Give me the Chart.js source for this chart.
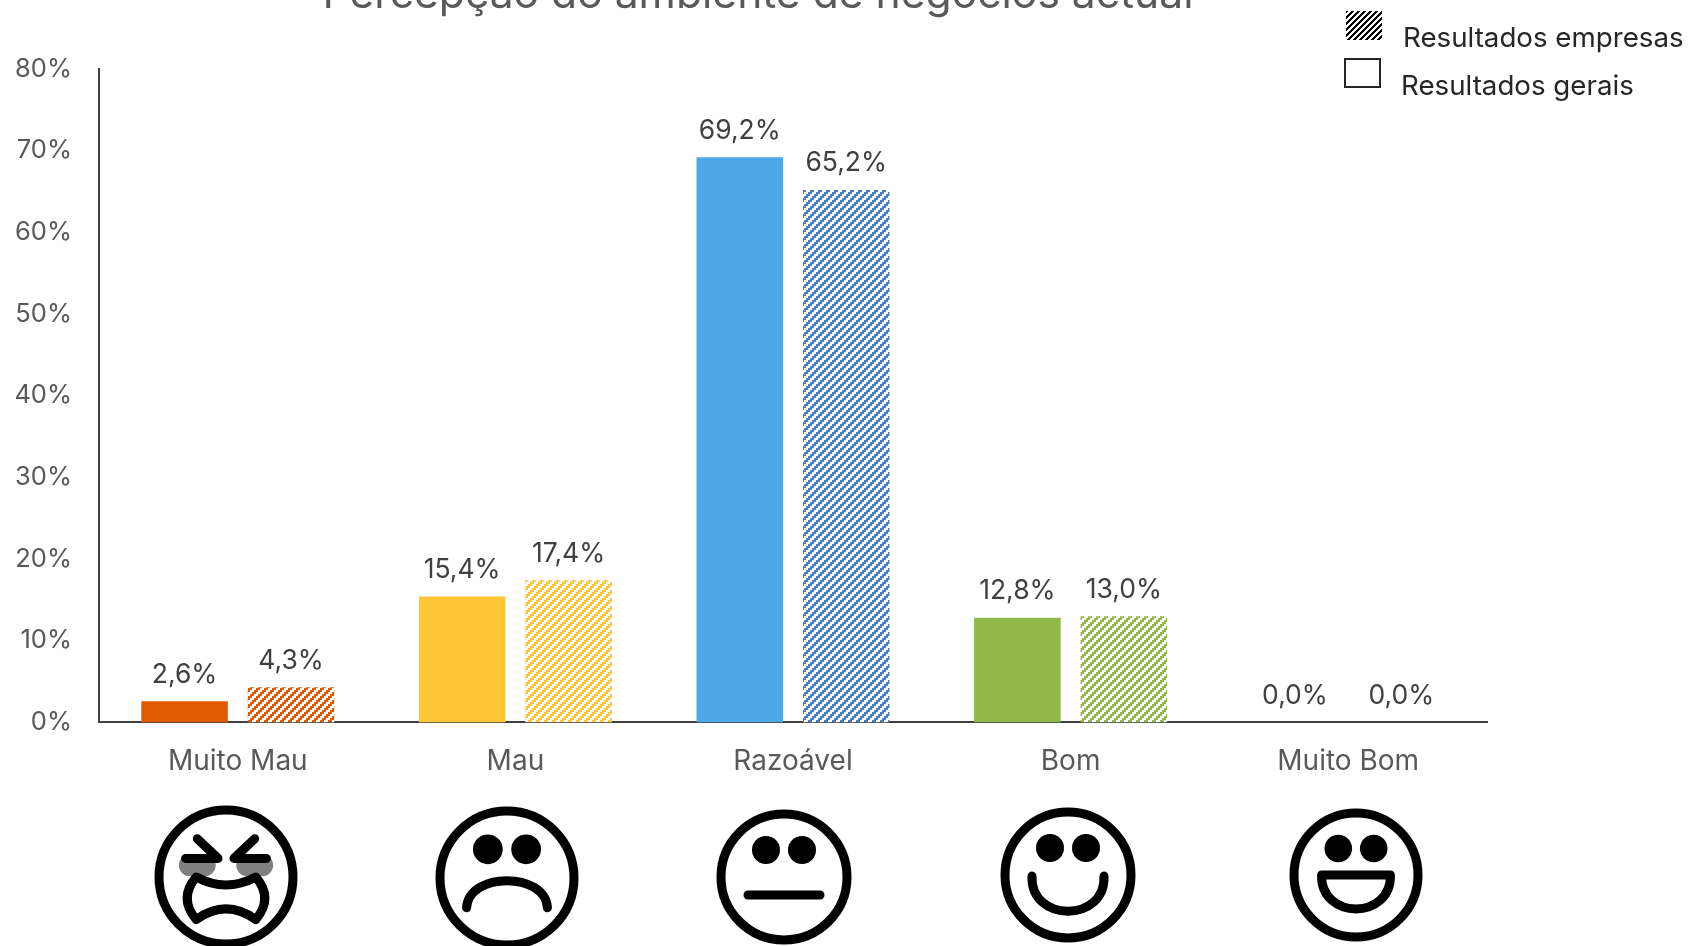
<!DOCTYPE html>
<html>
<head>
<meta charset="utf-8">
<style>
  html, body { margin: 0; padding: 0; background: #fff; overflow: hidden; }
  #wrap { width: 1689px; height: 946px; }
</style>
<script src="https://cdn.jsdelivr.net/npm/chart.js@4/dist/chart.umd.min.js"></script>
</head>
<body>
<div id="wrap"><canvas id="chart" width="1689" height="946"></canvas></div>
<script>
const TITLE = 'Percepção do ambiente de negócios actual';
const categories = ['Muito Mau', 'Mau', 'Razoável', 'Bom', 'Muito Bom'];
const geraisValues = [2.6, 15.4, 69.2, 12.8, 0.0];
const empresasValues = [4.3, 17.4, 65.2, 13.0, 0.0];
const solidColors = ['#E15A00', '#FFC636', '#4CA8E6', '#92B84A', '#A5A5A5'];
const hatchColors = ['#E15A00', '#FFC636', '#4A7EBF', '#92B84A', '#A5A5A5'];
const legendLabels = ['Resultados empresas', 'Resultados gerais'];

const FONT = 'Inter, "Open Sans", sans-serif';
const TEXT = '#595959';

// diagonal staircase stripes, crisp like an office pattern fill
function hatch(color, period = 8, step = 2) {
  const c = document.createElement('canvas');
  c.width = c.height = period;
  const g = c.getContext('2d');
  g.fillStyle = '#fff';
  g.fillRect(0, 0, period, period);
  g.fillStyle = color;
  for (let y = 0; y < period; y += step) {
    for (let x = 0; x < period; x += step) {
      if ((x + y) % period < period / 2) g.fillRect(x, y, step, step);
    }
  }
  return g.createPattern(c, 'repeat');
}

const ctx = document.getElementById('chart').getContext('2d');

const pct = v => v.toFixed(1).replace('.', ',') + '%';

// Value labels above each bar
const valueLabels = {
  id: 'valueLabels',
  afterDatasetsDraw(chart) {
    const g = chart.ctx;
    g.save();
    g.font = '26.5px ' + FONT;
    g.fillStyle = '#404040';
    g.textAlign = 'center';
    g.textBaseline = 'alphabetic';
    chart.data.datasets.forEach((ds, i) => {
      chart.getDatasetMeta(i).data.forEach((bar, j) => {
        g.fillText(pct(ds.data[j]), bar.x, bar.y - 18.5);
      });
    });
    g.restore();
  },
};

// Title (cut by the top edge, as in the original) and hand-placed legend
const titleAndLegend = {
  id: 'titleAndLegend',
  afterDraw(chart) {
    const g = chart.ctx;
    g.save();
    g.font = '42.6px ' + FONT;
    g.fillStyle = TEXT;
    g.textAlign = 'center';
    g.fillText(TITLE, 758, 8);

    g.font = '27.7px ' + FONT;
    g.fillStyle = '#262626';
    g.textAlign = 'left';
    g.fillText(legendLabels[0], 1403, 47);
    g.fillText(legendLabels[1], 1401, 95);

    g.fillStyle = hatch('#000', 6, 1);
    g.fillRect(1346, 11, 36, 29);
    g.strokeStyle = '#262626';
    g.lineWidth = 2;
    g.strokeRect(1345, 59, 35, 28);
    g.restore();
  },
};

// Faces under the axis labels
const FACES = [
  { kind: 'angry', cx: 226, cy: 877, r: 67 },
  { kind: 'sad', cx: 507, cy: 878, r: 67 },
  { kind: 'neutral', cx: 784, cy: 877, r: 63 },
  { kind: 'smile', cx: 1068, cy: 875, r: 63 },
  { kind: 'grin', cx: 1356, cy: 875, r: 62 },
];

function drawFace(g, f) {
  const { cx, cy, r } = f;
  const u = r / 63;
  const X = v => cx + v * u;
  const Y = v => cy + v * u;
  g.save();
  g.strokeStyle = '#000';
  g.fillStyle = '#000';
  g.lineCap = 'round';
  g.lineJoin = 'round';
  g.lineWidth = 9;
  g.beginPath();
  g.arc(cx, cy, r, 0, Math.PI * 2);
  g.stroke();

  const eyes = () => {
    [-18, 18].forEach(dx => {
      g.beginPath();
      g.arc(X(dx), Y(-27), 14 * u, 0, Math.PI * 2);
      g.fill();
    });
  };

  g.beginPath();
  if (f.kind === 'angry') {
    // grey tear smudges behind the squeezed eyes
    g.save();
    g.strokeStyle = '#808080';
    g.lineWidth = 22;
    g.beginPath();
    g.moveTo(X(-34), Y(-11)); g.lineTo(X(-20), Y(-11));
    g.moveTo(X(34), Y(-11)); g.lineTo(X(20), Y(-11));
    g.stroke();
    g.restore();
    g.beginPath();
    g.moveTo(X(-27), Y(-36)); g.lineTo(X(-7.5), Y(-17.5)); g.lineTo(X(-38), Y(-17.5));
    g.moveTo(X(27), Y(-36)); g.lineTo(X(7.5), Y(-17.5)); g.lineTo(X(38), Y(-17.5));
    g.stroke();
    g.beginPath();
    g.moveTo(X(-28), Y(0));
    g.quadraticCurveTo(X(0), Y(15), X(28), Y(0));
    g.quadraticCurveTo(X(45), Y(20), X(28), Y(40));
    g.quadraticCurveTo(X(0), Y(20), X(-28), Y(40));
    g.quadraticCurveTo(X(-45), Y(20), X(-28), Y(0));
    g.closePath();
    g.fillStyle = '#fff';
    g.fill();
    g.stroke();
  } else if (f.kind === 'sad') {
    eyes();
    g.beginPath();
    g.moveTo(X(-38), Y(28));
    g.bezierCurveTo(X(-36), Y(-6), X(36), Y(-6), X(38), Y(28));
    g.stroke();
  } else if (f.kind === 'neutral') {
    eyes();
    g.beginPath();
    g.moveTo(X(-36), Y(18));
    g.lineTo(X(36), Y(18));
    g.stroke();
  } else if (f.kind === 'smile') {
    eyes();
    g.beginPath();
    g.moveTo(X(-36), Y(1));
    g.bezierCurveTo(X(-38), Y(48), X(38), Y(48), X(36), Y(1));
    g.stroke();
  } else {
    eyes();
    g.beginPath();
    g.moveTo(X(-35), Y(0));
    g.lineTo(X(35), Y(0));
    g.bezierCurveTo(X(36), Y(46), X(-36), Y(46), X(-35), Y(0));
    g.closePath();
    g.stroke();
  }
  g.restore();
}

const faces = {
  id: 'faces',
  afterDraw(chart) {
    FACES.forEach(f => drawFace(chart.ctx, f));
  },
};

new Chart(ctx, {
  type: 'bar',
  data: {
    labels: categories,
    datasets: [
      { label: 'Resultados gerais', data: geraisValues, backgroundColor: solidColors,
        borderWidth: 0, categoryPercentage: 0.767, barPercentage: 0.813 },
      { label: 'Resultados empresas', data: empresasValues,
        backgroundColor: hatchColors.map(c => hatch(c)),
        borderWidth: 0, categoryPercentage: 0.767, barPercentage: 0.813 },
    ],
  },
  options: {
    responsive: false,
    animation: false,
    layout: { padding: { left: 0, right: 202, top: 69, bottom: 146 } },
    plugins: { legend: { display: false }, title: { display: false }, tooltip: { enabled: false } },
    scales: {
      x: {
        grid: { display: false, drawTicks: false },
        border: { color: '#404040', width: 2 },
        ticks: { color: TEXT, font: { family: FONT, size: 28 }, padding: 22, maxRotation: 0 },
      },
      y: {
        min: 0, max: 80,
        afterFit(s) { s.width = 99; },
        grid: { display: false, drawTicks: false },
        border: { color: '#404040', width: 2 },
        ticks: { stepSize: 10, color: TEXT, font: { family: FONT, size: 25.5 }, padding: 27,
                 callback: v => v + '%' },
      },
    },
  },
  plugins: [valueLabels, titleAndLegend, faces],
});
</script>
</body>
</html>
